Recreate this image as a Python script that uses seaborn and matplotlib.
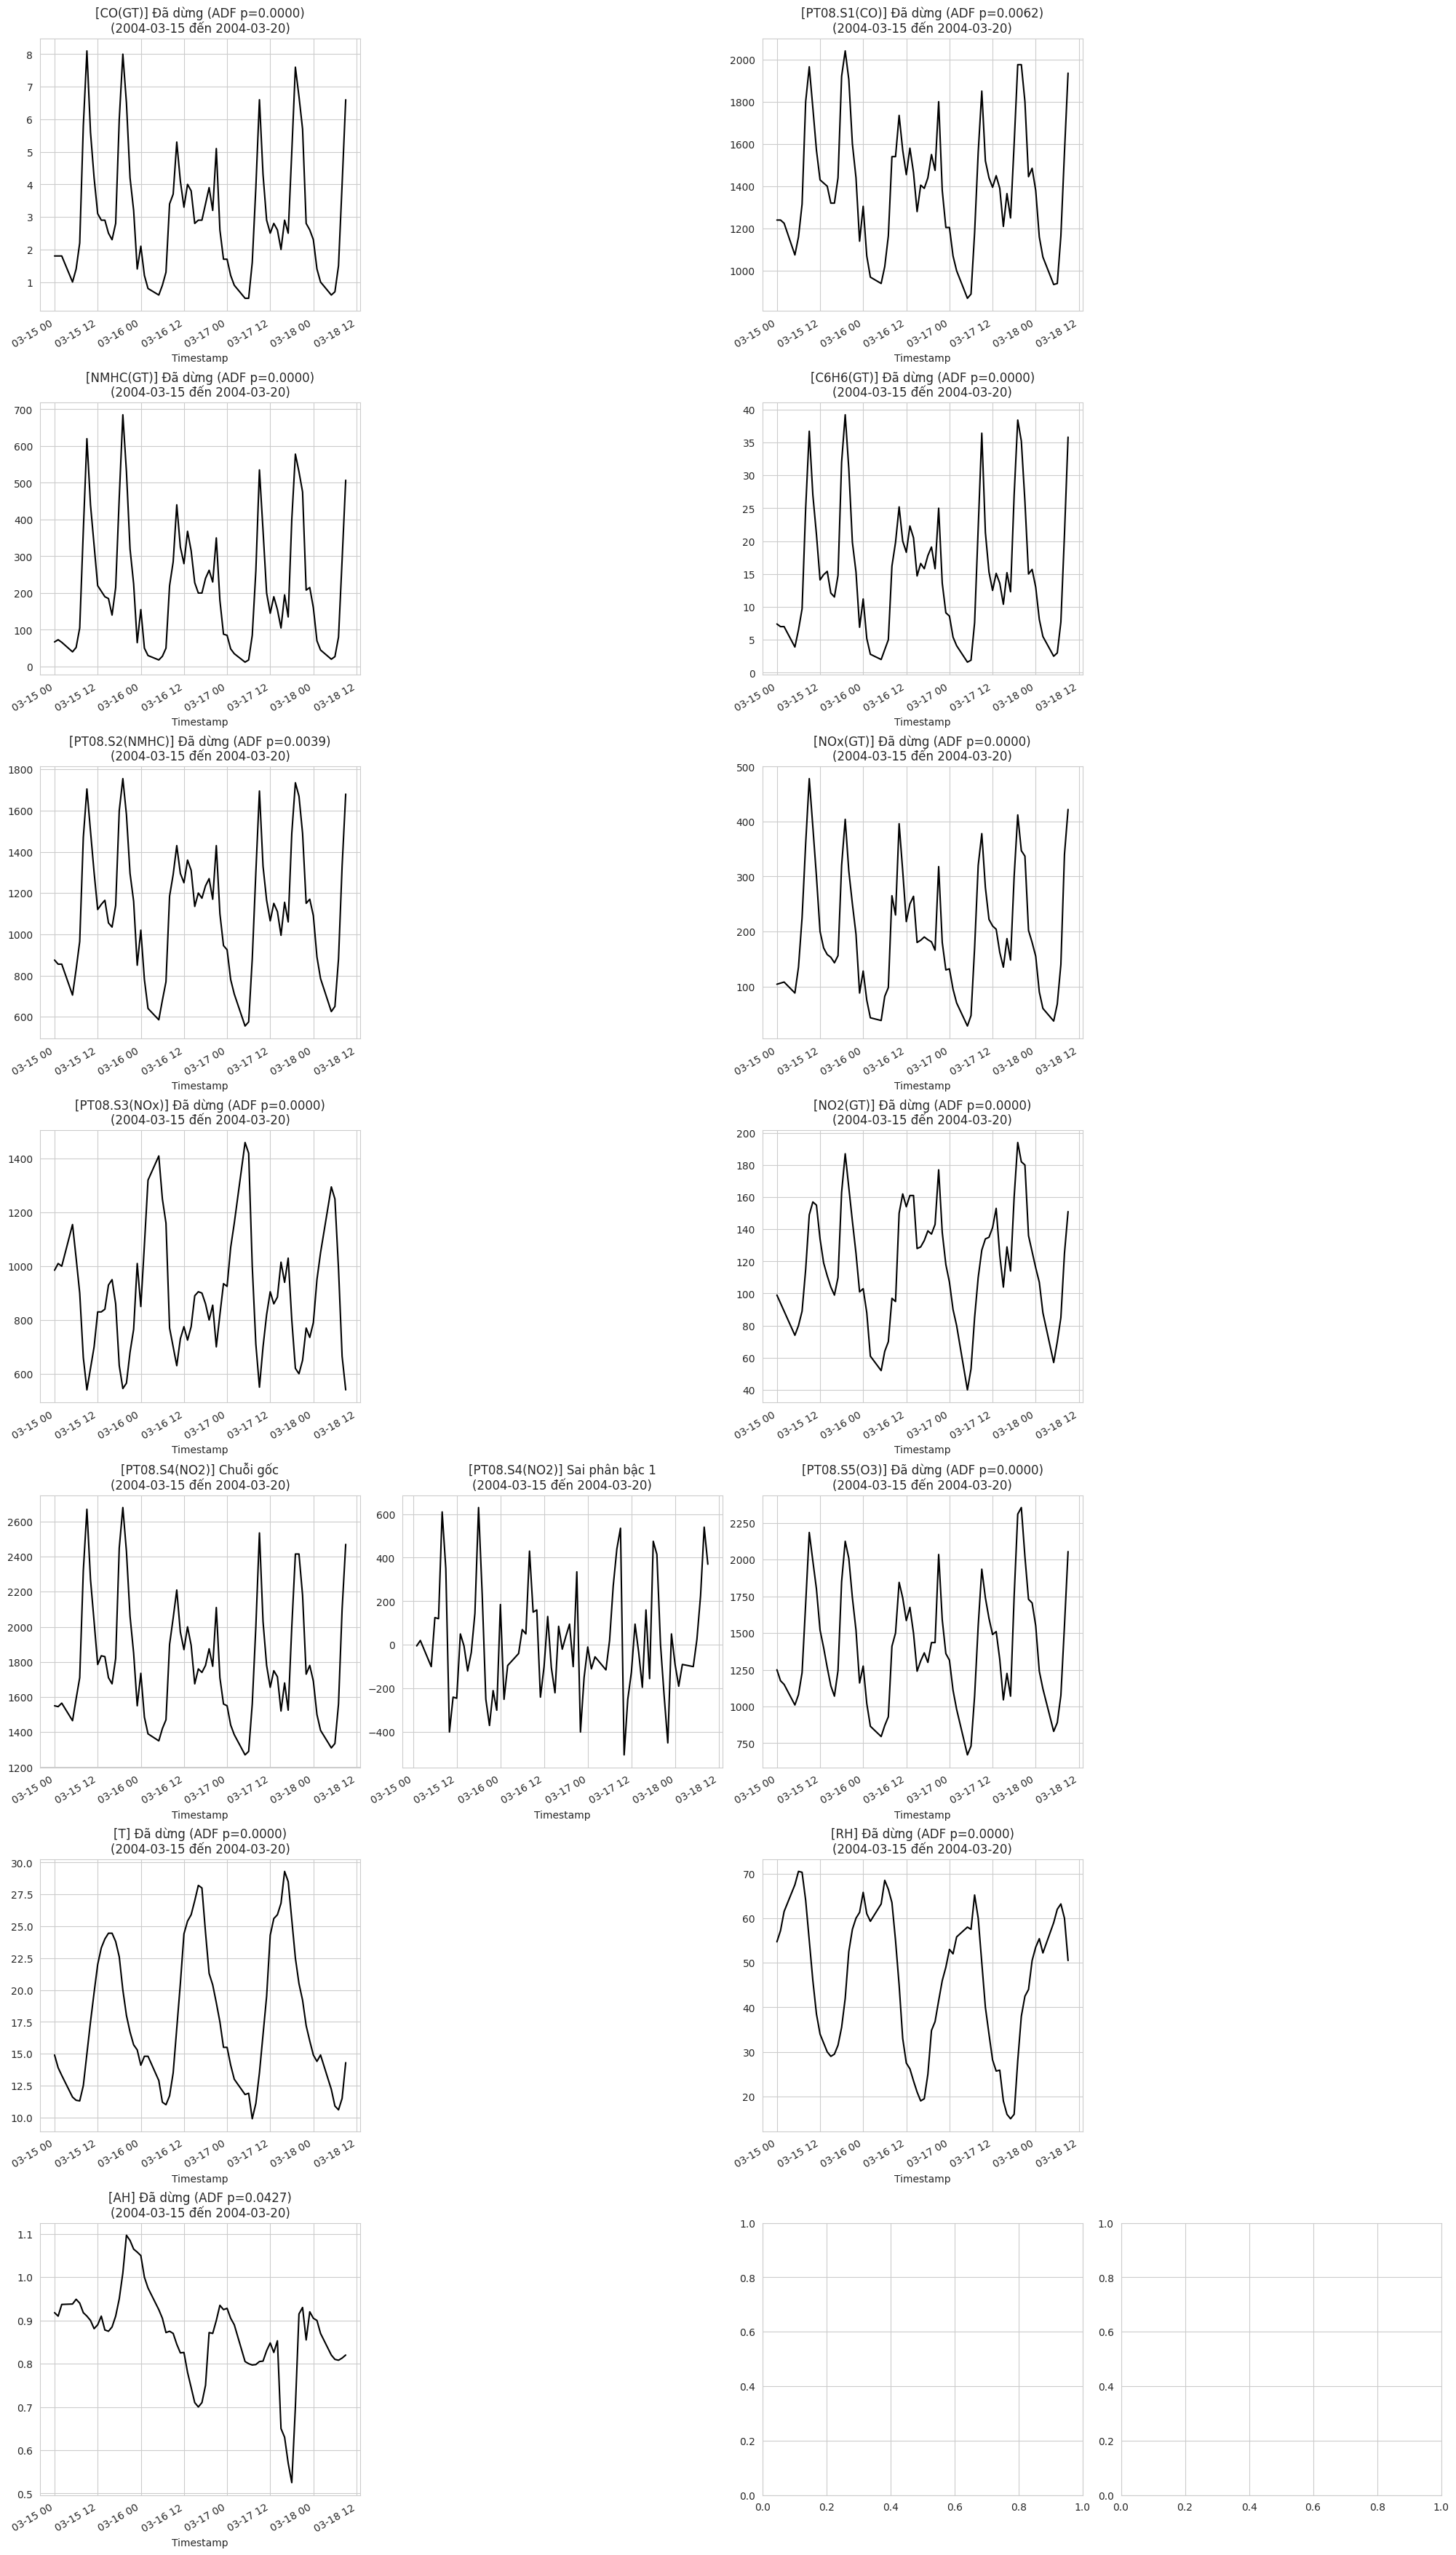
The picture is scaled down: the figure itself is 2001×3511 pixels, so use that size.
import numpy as np
import pandas as pd
import seaborn as sns
import matplotlib.pyplot as plt

sns.set_style("whitegrid")

# hourly readings 2004-03-15 00:00 .. 2004-03-18 09:00, rows at these offsets are missing
missing_hours = [3, 4, 27, 28, 51, 52, 75, 76]
period_label = "(2004-03-15 đến 2004-03-20)"

columns = ["CO(GT)", "PT08.S1(CO)", "NMHC(GT)", "C6H6(GT)", "PT08.S2(NMHC)", "NOx(GT)",
           "PT08.S3(NOx)", "NO2(GT)", "PT08.S4(NO2)", "PT08.S5(O3)", "T", "RH", "AH"]
adf_pvalues = [0.0000, 0.0062, 0.0000, 0.0000, 0.0039, 0.0000,
               0.0000, 0.0000, None, 0.0000, 0.0000, 0.0000, 0.0427]

co_gt = [1.8, 1.8, 1.8,
         1.0, 1.4, 2.2, 5.8, 8.1, 5.6, 4.2, 3.1, 2.9, 2.9, 2.5, 2.3, 2.8, 6.0, 8.0, 6.5, 4.2, 3.2, 1.4, 2.1, 1.2, 0.8,
         0.6, 0.9, 1.3, 3.4, 3.7, 5.3, 4.1, 3.3, 4.0, 3.8, 2.8, 2.9, 2.9, 3.4, 3.9, 3.2, 5.1, 2.6, 1.7, 1.7, 1.2, 0.9,
         0.5, 0.5, 1.6, 3.9, 6.6, 4.3, 2.9, 2.5, 2.8, 2.6, 2.0, 2.9, 2.5, 5.0, 7.6, 6.7, 5.7, 2.8, 2.6, 2.3, 1.4, 1.0,
         0.6, 0.7, 1.5, 4.0, 6.6]
pt08_s1 = [1240, 1240, 1225,
           1075, 1160, 1315, 1800, 1965, 1770, 1570, 1430, 1415, 1400, 1320, 1320, 1440, 1920, 2040, 1905, 1600, 1440, 1140, 1305, 1070, 970,
           940, 1020, 1165, 1540, 1540, 1735, 1570, 1455, 1580, 1465, 1280, 1405, 1390, 1440, 1550, 1475, 1800, 1380, 1205, 1205, 1070, 1000,
           870, 890, 1180, 1560, 1850, 1520, 1440, 1395, 1450, 1390, 1210, 1365, 1250, 1600, 1975, 1975, 1800, 1445, 1485, 1380, 1160, 1065,
           935, 940, 1165, 1560, 1935]
nmhc_gt = [67, 73, 66,
           40, 52, 105, 370, 620, 440, 330, 220, 205, 190, 185, 140, 215, 460, 685, 530, 320, 225, 65, 155, 50, 30,
           18, 28, 50, 220, 285, 440, 325, 280, 368, 315, 228, 200, 200, 240, 262, 230, 350, 180, 88, 85, 48, 35,
           12, 18, 85, 260, 535, 370, 200, 145, 190, 155, 105, 195, 135, 400, 578, 530, 475, 208, 215, 160, 70, 45,
           20, 27, 80, 290, 507]
c6h6_gt = [7.4, 7.0, 7.0,
           3.9, 6.5, 9.7, 25.0, 36.7, 27.0, 21.0, 14.1, 14.9, 15.4, 12.1, 11.5, 14.8, 32.0, 39.2, 31.0, 19.8, 15.3, 6.9, 11.2, 5.2, 2.8,
           2.0, 3.5, 5.0, 16.2, 19.8, 25.2, 20.0, 18.3, 22.3, 20.5, 14.7, 16.6, 15.8, 17.8, 19.1, 15.8, 25.0, 13.6, 9.1, 8.6, 5.4, 4.1,
           1.6, 1.9, 7.6, 22.0, 36.4, 21.3, 15.3, 12.5, 15.1, 13.6, 10.4, 15.2, 12.3, 27.0, 38.4, 35.2, 26.0, 15.0, 15.7, 13.0, 8.1, 5.5,
           2.5, 3.0, 7.7, 21.0, 35.8]
pt08_s2 = [875, 855, 855,
           705, 830, 965, 1470, 1705, 1500, 1300, 1120, 1145, 1165, 1055, 1035, 1140, 1600, 1755, 1580, 1295, 1160, 850, 1020, 780, 640,
           585, 680, 770, 1185, 1290, 1430, 1295, 1250, 1360, 1310, 1135, 1200, 1175, 1235, 1270, 1170, 1430, 1100, 945, 925, 780, 710,
           555, 575, 880, 1300, 1695, 1330, 1165, 1065, 1150, 1110, 995, 1155, 1060, 1490, 1735, 1670, 1490, 1150, 1170, 1090, 890, 785,
           625, 650, 880, 1330, 1680]
nox_gt = [104, 106, 108,
          88, 135, 225, 360, 478, 390, 300, 200, 170, 158, 153, 143, 156, 320, 404, 310, 250, 195, 88, 128, 75, 43,
          38, 82, 98, 265, 230, 396, 310, 218, 250, 264, 180, 184, 190, 185, 181, 166, 318, 180, 130, 132, 95, 70,
          28, 47, 170, 320, 378, 280, 222, 210, 204, 162, 135, 187, 148, 300, 412, 347, 337, 202, 180, 155, 90, 60,
          37, 68, 140, 340, 422]
pt08_s3 = [985, 1010, 1000,
           1155, 1030, 900, 660, 540, 620, 700, 830, 830, 840, 930, 950, 860, 630, 545, 565, 680, 765, 1010, 850, 1080, 1320,
           1410, 1250, 1160, 770, 700, 630, 730, 775, 725, 775, 890, 905, 900, 860, 800, 855, 700, 820, 935, 925, 1070, 1160,
           1460, 1420, 1000, 710, 550, 700, 820, 905, 860, 885, 1015, 940, 1030, 800, 620, 600, 650, 770, 735, 790, 950, 1050,
           1295, 1250, 990, 665, 540]
no2_gt = [99, 94, 89,
          74, 80, 89, 115, 149, 157, 155, 134, 119, 111, 104, 99, 110, 163, 187, 166, 145, 125, 101, 103, 88, 61,
          52, 64, 70, 97, 95, 150, 162, 154, 161, 161, 128, 129, 133, 139, 137, 143, 177, 138, 118, 107, 90, 80,
          40, 53, 85, 110, 127, 134, 135, 141, 153, 124, 104, 129, 114, 160, 194, 182, 180, 136, 126, 116, 107, 88,
          57, 70, 85, 125, 151]
pt08_s4 = [1550, 1545, 1565,
           1465, 1590, 1710, 2320, 2670, 2270, 2030, 1785, 1835, 1830, 1710, 1675, 1820, 2450, 2680, 2430, 2060, 1850, 1550, 1735, 1485, 1390,
           1350, 1420, 1470, 1900, 2050, 2210, 1970, 1870, 2000, 1895, 1675, 1760, 1740, 1780, 1875, 1775, 2110, 1710, 1560, 1550, 1440, 1385,
           1270, 1290, 1560, 2000, 2535, 2030, 1780, 1655, 1750, 1715, 1520, 1680, 1525, 2000, 2415, 2415, 2180, 1730, 1780, 1690, 1500, 1410,
           1310, 1335, 1560, 2100, 2470]
pt08_s5 = [1250, 1175, 1150,
           1010, 1080, 1230, 1700, 2185, 1990, 1800, 1520, 1400, 1265, 1140, 1070, 1245, 1850, 2125, 2010, 1740, 1520, 1160, 1275, 1020, 865,
           795, 870, 930, 1410, 1500, 1845, 1740, 1585, 1675, 1500, 1240, 1310, 1365, 1300, 1435, 1435, 2035, 1590, 1360, 1315, 1110, 980,
           670, 730, 1070, 1550, 1935, 1740, 1600, 1490, 1510, 1320, 1045, 1225, 1070, 1750, 2310, 2355, 2020, 1730, 1705, 1550, 1240, 1120,
           830, 890, 1075, 1550, 2055]
temp = [14.9, 13.9, 13.3,
        11.6, 11.35, 11.3, 12.5, 15.0, 17.5, 19.8, 22.0, 23.3, 24.0, 24.45, 24.45, 23.8, 22.6, 20.0, 18.0, 16.7, 15.7, 15.3, 14.1, 14.8, 14.8,
        12.9, 11.2, 11.0, 11.7, 13.5, 17.0, 20.5, 24.4, 25.4, 25.9, 27.0, 28.2, 28.0, 24.5, 21.3, 20.4, 19.0, 17.5, 15.5, 15.5, 14.1, 13.0,
        11.8, 11.9, 9.9, 11.1, 13.5, 16.5, 19.5, 24.3, 25.6, 25.9, 26.8, 29.3, 28.5, 25.5, 22.5, 20.5, 19.2, 17.2, 16.0, 14.9, 14.4, 14.9,
        12.2, 10.9, 10.6, 11.5, 14.3]
rh = [54.7, 57.2, 61.5,
      67.5, 70.5, 70.3, 64.0, 55.0, 46.0, 38.5, 34.0, 32.0, 30.0, 29.0, 29.5, 31.5, 35.5, 42.0, 52.5, 57.5, 60.0, 61.3, 65.8, 61.0, 59.3,
      63.2, 68.5, 66.5, 63.5, 55.0, 45.0, 33.0, 27.5, 26.2, 23.5, 21.0, 19.0, 19.5, 25.0, 34.8, 36.8, 41.5, 46.0, 49.0, 53.0, 52.0, 55.8,
      58.0, 57.5, 65.2, 60.0, 50.0, 40.0, 34.0, 28.2, 25.7, 25.9, 19.0, 16.0, 15.0, 16.0, 28.0, 38.0, 42.5, 44.0, 50.5, 53.5, 55.4, 52.2,
      59.0, 62.0, 63.2, 60.0, 50.5]
ah = [0.918, 0.910, 0.937,
      0.938, 0.949, 0.940, 0.918, 0.910, 0.900, 0.881, 0.890, 0.910, 0.878, 0.875, 0.885, 0.910, 0.950, 1.010, 1.097, 1.085, 1.065, 1.058, 1.050, 1.000, 0.975,
      0.925, 0.905, 0.872, 0.875, 0.870, 0.845, 0.825, 0.826, 0.780, 0.745, 0.710, 0.700, 0.710, 0.750, 0.872, 0.870, 0.900, 0.935, 0.925, 0.928, 0.905, 0.890,
      0.805, 0.800, 0.797, 0.798, 0.805, 0.806, 0.830, 0.848, 0.826, 0.853, 0.650, 0.630, 0.570, 0.525, 0.700, 0.915, 0.930, 0.855, 0.920, 0.905, 0.900, 0.870,
      0.820, 0.810, 0.808, 0.813, 0.820]

timestamps = pd.date_range("2004-03-15 00:00", "2004-03-18 09:00", freq="h").delete(missing_hours)
df = pd.DataFrame({
    "CO(GT)": co_gt, "PT08.S1(CO)": pt08_s1, "NMHC(GT)": nmhc_gt, "C6H6(GT)": c6h6_gt,
    "PT08.S2(NMHC)": pt08_s2, "NOx(GT)": nox_gt, "PT08.S3(NOx)": pt08_s3, "NO2(GT)": no2_gt,
    "PT08.S4(NO2)": pt08_s4, "PT08.S5(O3)": pt08_s5, "T": temp, "RH": rh, "AH": ah,
}, index=timestamps)
df.index.name = "Timestamp"


def draw(ax, s, title):
    sns.lineplot(x=s.index, y=s.values, ax=ax, color="black", linewidth=1.5)
    ax.set_title(title)
    ax.set_xlabel("Timestamp")
    ax.set_ylabel("")
    plt.setp(ax.get_xticklabels(), rotation=30, ha="right")


fig, axes = plt.subplots(7, 4, figsize=(19.9, 35), layout="constrained")
axes = axes.flatten()

for i, col in enumerate(columns):
    ax_orig, ax_diff = axes[2 * i], axes[2 * i + 1]
    p = adf_pvalues[i]
    if p is not None and p < 0.05:
        draw(ax_orig, df[col], f"[{col}] Đã dừng (ADF p={p:.4f})\n{period_label}")
        ax_diff.axis("off")
    else:
        # non-stationary: show the raw series and its first difference
        draw(ax_orig, df[col], f"[{col}] Chuỗi gốc\n{period_label}")
        draw(ax_diff, df[col].diff().dropna(), f"[{col}] Sai phân bậc 1\n{period_label}")

fig.savefig("out.png", dpi=100, bbox_inches="tight")
